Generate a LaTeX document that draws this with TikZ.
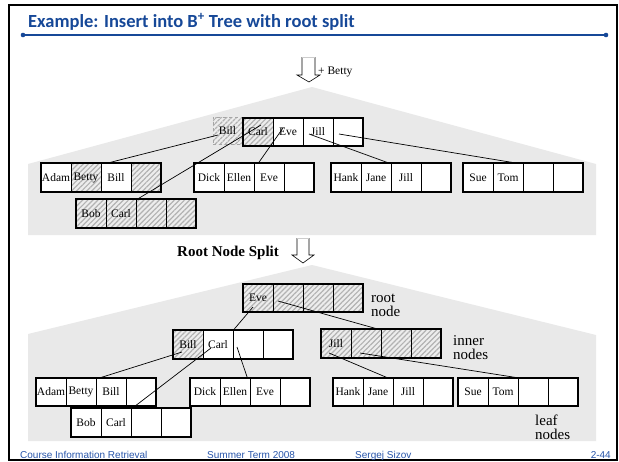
\documentclass[tikz,border=0pt]{standalone}
\usepackage{fontspec}
\setmainfont{Liberation Serif}
\newfontfamily\titlefont{Carlito}
\newfontfamily\footfont{Liberation Sans}
\usepackage{tikz}
\usetikzlibrary{patterns.meta}
\definecolor{slideblue}{RGB}{22,72,152}
\definecolor{footblue}{RGB}{40,85,170}
\definecolor{roofgray}{RGB}{233,233,233}
\tikzset{
  keycell/.style={draw, line width=0.6pt, minimum width=30pt, minimum height=28pt, inner sep=0pt, font=\fontsize{11.5}{12}\selectfont},
  emptycell/.style={fill=white},
  hatchcell/.style={preaction={fill=gray!14}, pattern={Lines[angle=45,distance=3.6pt,line width=1.2pt]}, pattern color=gray!60},
  ghostcell/.style={hatchcell, draw=gray!70, dashed, line width=0.5pt},
  nodeframe/.style={draw, line width=1.7pt},
  pointer/.style={line width=0.7pt},
  roof/.style={fill=roofgray},
  steparrow/.style={line width=0.6pt},
  sidelabel/.style={align=left, font=\fontsize{15}{14}\selectfont, inner sep=0pt, anchor=west},
  footer/.style={font=\footfont\fontsize{10}{12}\selectfont, text=footblue, inner sep=0pt}
}
% one B+ tree node with four key cells: name, left-middle point, style/key list
\newcommand{\keynode}[3]{%
  \begin{scope}[shift={#2}]
    \foreach [count=\i] \cellstyle/\cellkey in {#3}
      \node[keycell, \cellstyle] (#1-\i) at (\i*30-15, 0) {\cellkey};
  \end{scope}
  \draw[nodeframe] (#1-1.north west) rectangle (#1-4.south east);
}

\begin{document}
\begin{tikzpicture}[x=1pt, y=-1pt]
  \useasboundingbox (0,0) rectangle (619,461);
  \fill[white] (0,0) rectangle (619,461);

  % slide frame and title
  \draw[line width=2.2pt] (9,5) rectangle (617,460);
  \node[anchor=west, inner sep=0pt, font=\titlefont\bfseries\fontsize{18.5}{20}\selectfont, text=slideblue] (title) at (28,22) {Example: Insert into B\textsuperscript{+} Tree with root split};
  \draw[slideblue, line width=1.6pt] (23,35) -- (606,35);
  \fill[slideblue] (23,35) circle (2.3) (606,35) circle (2.3);

  % before the split
  \fill[roof] (28,164) -- (312,87) -- (596,164) -- (596,235) -- (28,235) -- cycle;
  \fill[white] (302,57) -- (302,75) -- (297,75) -- (309,82) -- (320,75) -- (315,75) -- (315,57) -- cycle;
  \draw[steparrow] (302,57) -- (302,75) -- (297,75) -- (309,82) -- (320,75) -- (315,75) -- (315,57);
  \draw[gray!40, line width=0.6pt] (302,57) -- (315,57);
  \node[anchor=west, inner sep=0pt, font=\fontsize{11.5}{12}\selectfont] (newkey) at (318,72) {+ Betty};

  \node[keycell, ghostcell, minimum width=29pt, minimum height=27pt] (ubill) at (227.5,130.5) {Bill};
  \keynode{uroot}{(243,132)}{hatchcell/Carl, emptycell/Eve, emptycell/Jill, emptycell/{}}
  \keynode{ul1}{(41,177.5)}{emptycell/Adam, hatchcell/Betty, emptycell/Bill, hatchcell/{}}
  \keynode{ul2}{(194,177.5)}{emptycell/Dick, emptycell/Ellen, emptycell/Eve, emptycell/{}}
  \keynode{ul3}{(331,177.5)}{emptycell/Hank, emptycell/Jane, emptycell/Jill, emptycell/{}}
  \keynode{ul4}{(463,177.5)}{emptycell/Sue, emptycell/Tom, emptycell/{}, emptycell/{}}
  \keynode{ul5}{(76,213.5)}{hatchcell/Bob, hatchcell/Carl, hatchcell/{}, hatchcell/{}}

  \draw[pointer] ([xshift=-9.5pt,yshift=-4.5pt]ubill.center) -- ([xshift=-9pt]ul1-3.north);
  \draw[pointer] ([xshift=3pt,yshift=7pt]uroot-1.center) -- ([xshift=1pt]ul5-2.north east);
  \draw[pointer] ([xshift=-5pt,yshift=4pt]uroot-2.center) -- ([xshift=4pt]ul2-2.north east);
  \draw[pointer] ([xshift=-9pt,yshift=-2pt]uroot-3.center) -- ([xshift=-2pt]ul3-2.north east);
  \draw[pointer] ([xshift=-9pt,yshift=-2pt]uroot-4.center) -- ([xshift=9pt]ul4-2.north);

  % after the split
  \node[anchor=west, inner sep=0pt, font=\bfseries\fontsize{15}{16}\selectfont] (splitlabel) at (177,253) {Root Node Split};
  \fill[roof] (28,334) -- (312,265) -- (596,335) -- (596,441) -- (28,441) -- cycle;
  \fill[white] (297,238) -- (297,255) -- (292,255) -- (303,263) -- (314,255) -- (309,255) -- (309,238) -- cycle;
  \draw[steparrow] (297,238) -- (297,255) -- (292,255) -- (303,263) -- (314,255) -- (309,255) -- (309,238);
  \draw[gray!40, line width=0.6pt] (297,238) -- (309,238);

  \keynode{lroot}{(243,298)}{hatchcell/Eve, hatchcell/{}, hatchcell/{}, hatchcell/{}}
  \keynode{li1}{(173,344.5)}{hatchcell/Bill, emptycell/Carl, emptycell/{}, emptycell/{}}
  \keynode{li2}{(321,343.5)}{hatchcell/Jill, hatchcell/{}, hatchcell/{}, hatchcell/{}}
  \keynode{ll1}{(36,392)}{emptycell/Adam, emptycell/Betty, emptycell/Bill, emptycell/{}}
  \keynode{ll2}{(190,392)}{emptycell/Dick, emptycell/Ellen, emptycell/Eve, emptycell/{}}
  \keynode{ll3}{(333,392)}{emptycell/Hank, emptycell/Jane, emptycell/Jill, emptycell/{}}
  \keynode{ll4}{(458,392)}{emptycell/Sue, emptycell/Tom, emptycell/{}, emptycell/{}}
  \keynode{ll5}{(71,422.5)}{emptycell/Bob, emptycell/Carl, emptycell/{}, emptycell/{}}

  \draw[pointer] ([xshift=-5pt,yshift=-9pt]lroot-1.center) -- (li1-2.north east);
  \draw[pointer] ([xshift=-10pt,yshift=-3pt]lroot-2.center) -- ([xshift=-3pt]li2-2.north east);
  \draw[pointer] ([xshift=-6pt,yshift=-7.5pt]li1-1.center) -- ([xshift=4pt]ll1-2.north east);
  \draw[pointer] ([xshift=-7pt,yshift=-3.5pt]li1-2.center) -- ([xshift=1pt]ll5-2.north east);
  \draw[pointer] ([xshift=-11pt,yshift=-2.5pt]li1-3.center) -- ([xshift=-3pt]ll2-2.north east);
  \draw[pointer] ([xshift=-7pt,yshift=-9.5pt]li2-1.center) -- ([xshift=-6pt]ll3-2.north east);
  \draw[pointer] ([xshift=-6pt,yshift=-9.5pt]li2-2.center) -- ([xshift=-1pt]ll4-2.north east);

  \node[sidelabel] (rootlabel) at (371,305) {root\\node};
  \node[sidelabel] (innerlabel) at (453,348) {inner\\nodes};
  \node[sidelabel] (leaflabel) at (535,427) {leaf\\nodes};

  % footer
  \node[footer, anchor=base west] (course) at (20,458) {Course Information Retrieval};
  \node[footer, anchor=base west] (term) at (207,458) {Summer Term 2008};
  \node[footer, anchor=base west] (lecturer) at (355,458) {Sergej Sizov};
  \node[footer, anchor=base east] (page) at (611,458) {2-44};
\end{tikzpicture}
\end{document}
